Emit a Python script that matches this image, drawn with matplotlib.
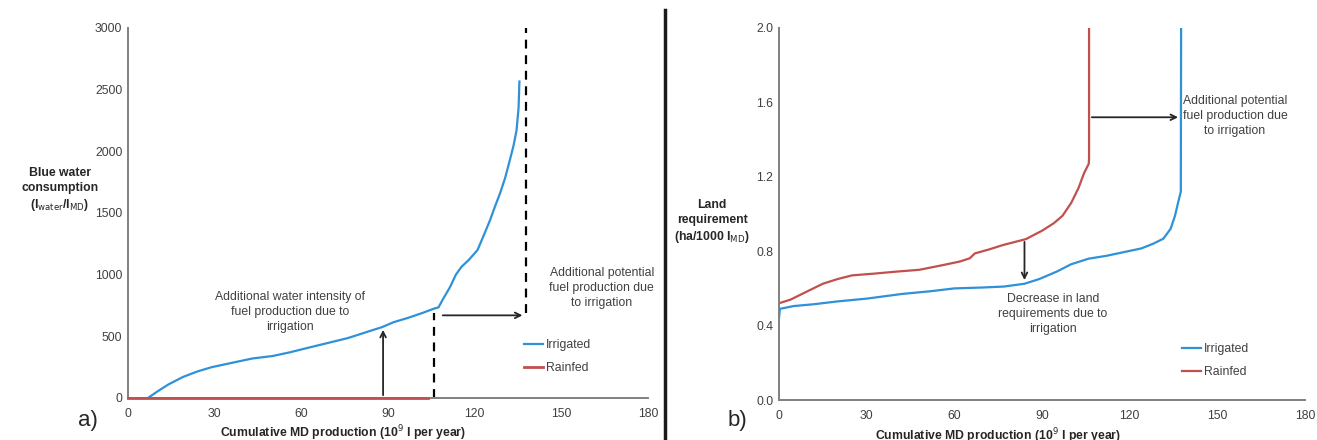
import matplotlib.pyplot as plt
from matplotlib.lines import Line2D

plt.rcParams['font.family'] = ['Liberation Sans', 'DejaVu Sans']

# --- data ---
# panel a: blue water consumption (l water / l MD)
irr_a_x = [6.9, 10, 14, 19, 24, 29, 36, 43, 50, 56, 62, 69, 76, 82, 88, 92, 97, 102, 106,
           107.5, 109, 111.5, 113.5, 115.5, 118, 121, 123, 125.3, 127, 128.8, 130.5, 132.2,
           133.5, 134.5, 135.2, 135.5]
irr_a_y = [0, 50, 110, 170, 215, 250, 285, 320, 340, 370, 405, 445, 485, 530, 575, 615, 650,
           690, 725, 735, 800, 900, 1000, 1065, 1120, 1200, 1310, 1440, 1550, 1660, 1780, 1930,
           2050, 2170, 2350, 2566]
rain_a_x = [0, 104]
rain_a_y = [0, 0]

# panel b: land requirement (ha / 1000 l MD)
irr_b_x = [0, 0.3, 5, 12, 20, 30, 42, 52, 60, 70, 77, 84, 89, 95, 100, 106, 112, 118, 124,
           128, 131.5, 134, 135.5, 136.7, 137.5, 137.6]
irr_b_y = [0.44, 0.49, 0.505, 0.515, 0.53, 0.545, 0.57, 0.585, 0.60, 0.605, 0.61, 0.625, 0.65,
           0.69, 0.73, 0.76, 0.775, 0.795, 0.815, 0.84, 0.867, 0.92, 0.99, 1.07, 1.12, 2.05]
rain_b_x = [0, 4, 8.5, 15, 20, 25, 33, 40, 48, 56, 62, 65.3, 67, 72, 76.6, 84.5, 90, 94, 97,
            100, 102.5, 104.4, 106, 106.1, 106.1]
rain_b_y = [0.52, 0.54, 0.575, 0.625, 0.65, 0.67, 0.68, 0.69, 0.70, 0.725, 0.745, 0.762, 0.788,
            0.81, 0.833, 0.865, 0.91, 0.95, 0.99, 1.06, 1.14, 1.22, 1.27, 1.30, 2.05]

x_ticks = [0, 30, 60, 90, 120, 150, 180]
ya_ticks = [0, 500, 1000, 1500, 2000, 2500, 3000]
yb_ticks = [0.0, 0.4, 0.8, 1.2, 1.6, 2.0]

BLUE = '#2f91d8'
RED = '#c0504d'
TXT = '#404040'
AX = '#808080'
FS = 8.8

fig = plt.figure(figsize=(13.17, 4.4), dpi=100)
ax1 = fig.add_axes([0.0972, 0.0955, 0.3948, 0.8409])
ax2 = fig.add_axes([0.5915, 0.0909, 0.3994, 0.8455])


def style(ax, yticks, fmt, xlab_pos):
    for s in ['top', 'right']:
        ax.spines[s].set_visible(False)
    for s in ['left', 'bottom']:
        ax.spines[s].set_color(AX)
        ax.spines[s].set_linewidth(1.4)
    ax.set_xlim(0, 180)
    ax.set_xticks(x_ticks)
    ax.set_yticks(yticks)
    ax.set_yticklabels([fmt.format(v) for v in yticks])
    ax.tick_params(length=0, labelsize=FS, labelcolor=TXT)
    ax.tick_params(axis='x', pad=7)
    ax.tick_params(axis='y', pad=4)
    ax.set_xlabel('Cumulative MD production (10$^9$ l per year)', fontsize=FS,
                  fontweight='bold', color='#262626', va='center')
    ax.xaxis.set_label_coords(*xlab_pos)


# --- panel a ---
ax1.plot(irr_a_x, irr_a_y, color=BLUE, lw=1.6, label='Irrigated', zorder=3)
ax1.plot(rain_a_x, rain_a_y, color=RED, lw=2, label='Rainfed', zorder=4, clip_on=False)
ax1.set_ylim(0, 3000)
style(ax1, ya_ticks, '{:.0f}', (0.413, -0.095))
ax1.plot([106, 106], [0, 690], color='black', ls=(0, (4, 3)), lw=1.6)
ax1.plot([137.8, 137.8], [690, 3000], color='black', ls=(0, (4, 3)), lw=1.6, clip_on=False)
ax1.annotate('', xy=(137.5, 670), xytext=(108, 670),
             arrowprops=dict(arrowstyle='->', color='#262626', lw=1.3))
ax1.annotate('', xy=(88.3, 575), xytext=(88.3, 0),
             arrowprops=dict(arrowstyle='->', color='#262626', lw=1.3))
ax1.text(56, 697, 'Additional water intensity of\nfuel production due to\nirrigation',
         ha='center', va='center', fontsize=FS, color=TXT, linespacing=1.3)
ax1.text(164, 892, 'Additional potential\nfuel production due\nto irrigation',
         ha='center', va='center', fontsize=FS, color=TXT, linespacing=1.3)
ax1.text(-0.131, 0.562, 'Blue water\nconsumption\n(l$_{\\mathrm{water}}$/l$_{\\mathrm{MD}}$)',
         transform=ax1.transAxes, ha='center', va='center', fontsize=FS, fontweight='bold',
         color='#262626', linespacing=1.3)
ax1.legend(loc='lower left', bbox_to_anchor=(0.74, 0.035), frameon=False, fontsize=FS,
           handlelength=1.6, handletextpad=0.2, labelspacing=0.9, labelcolor=TXT)

# --- panel b ---
ax2.plot(irr_b_x, irr_b_y, color=BLUE, lw=1.6, label='Irrigated')
ax2.plot(rain_b_x, rain_b_y, color=RED, lw=1.6, label='Rainfed')
ax2.set_ylim(0, 2.0)
style(ax2, yb_ticks, '{:.1f}', (0.416, -0.097))
ax2.annotate('', xy=(137.5, 1.52), xytext=(106.1, 1.52),
             arrowprops=dict(arrowstyle='->', color='#262626', lw=1.3))
ax2.annotate('', xy=(84, 0.63), xytext=(84, 0.865),
             arrowprops=dict(arrowstyle='->', color='#262626', lw=1.3))
ax2.text(156, 1.527, 'Additional potential\nfuel production due\nto irrigation',
         ha='center', va='center', fontsize=FS, color=TXT, linespacing=1.3)
ax2.text(93.8, 0.462, 'Decrease in land\nrequirements due to\nirrigation',
         ha='center', va='center', fontsize=FS, color=TXT, linespacing=1.3)
ax2.text(-0.127, 0.478, 'Land\nrequirement\n(ha/1000 l$_{\\mathrm{MD}}$)', transform=ax2.transAxes,
         ha='center', va='center', fontsize=FS, fontweight='bold', color='#262626',
         linespacing=1.3)
ax2.legend(loc='lower left', bbox_to_anchor=(0.745, 0.03), frameon=False, fontsize=FS,
           handlelength=1.6, handletextpad=0.2, labelspacing=0.9, labelcolor=TXT)

# panel letters and divider
fig.text(0.067, 0.045, 'a)', fontsize=16, color='#262626', ha='center', va='center')
fig.text(0.560, 0.045, 'b)', fontsize=16, color='#262626', ha='center', va='center')
fig.add_artist(Line2D([0.505, 0.505], [0.0, 0.977], color='#1a1a1a', lw=2.5))

fig.savefig('out.png', dpi=100)
